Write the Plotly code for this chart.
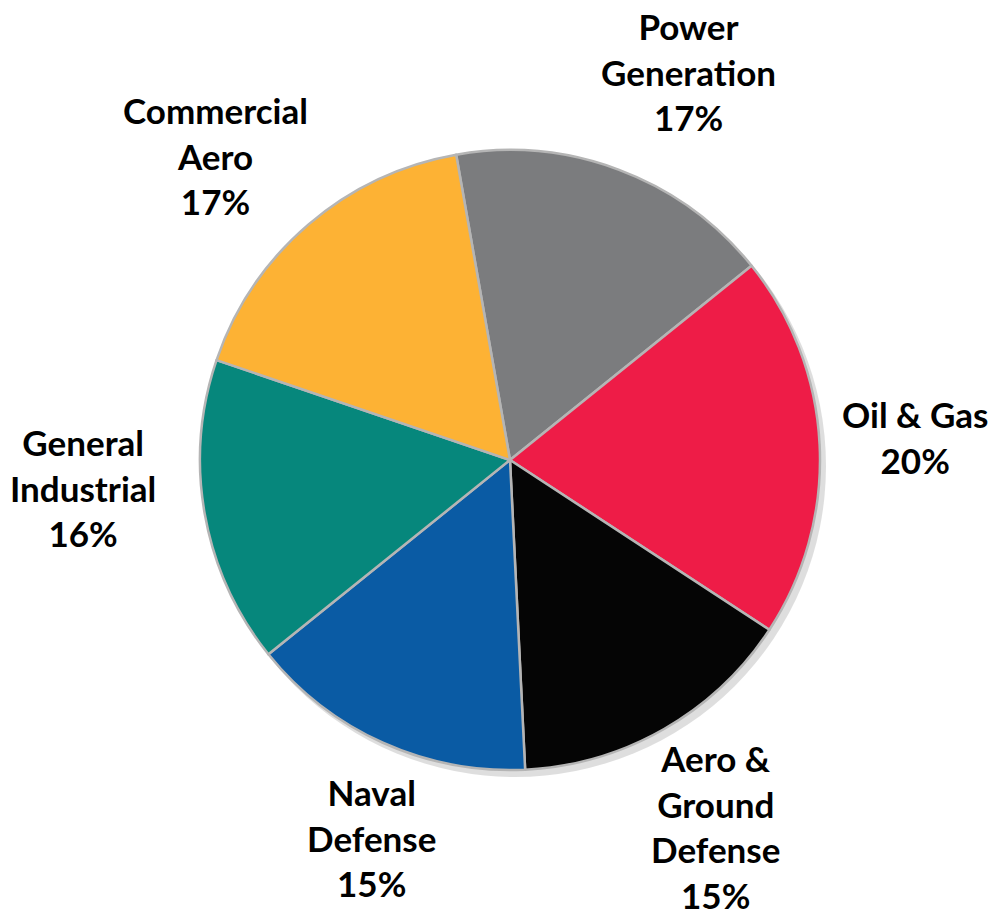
import plotly.graph_objects as go

categories = ["Power<br>Generation", "Oil & Gas", "Aero &<br>Ground<br>Defense",
              "Naval<br>Defense", "General<br>Industrial", "Commercial<br>Aero"]
values = [17, 20, 15, 15, 16, 17]
colors = ["#7b7c7e", "#ee1c47", "#050505", "#0a5ba4", "#06877c", "#fdb234"]

# label anchor positions (pixels) in a 994x913 canvas
label_px = [(688, 72), (915, 437), (715, 826), (371, 837), (83, 488), (215, 155)]

W, H = 994, 913
cx, cy, r = 510, 460, 310

def dom(cx, cy, r):
    return dict(x=[(cx - r) / W, (cx + r) / W], y=[(H - cy - r) / H, (H - cy + r) / H])

fig = go.Figure()
# soft shadow
fig.add_trace(go.Pie(values=[1], marker=dict(colors=["rgba(0,0,0,0.13)"], line=dict(width=0)),
                     domain=dom(cx + 5, cy + 6, r + 1), textinfo="none", hoverinfo="skip",
                     sort=False, showlegend=False))
fig.add_trace(go.Pie(labels=categories, values=values, sort=False, direction="clockwise",
                     rotation=-10, marker=dict(colors=colors, line=dict(color="#b5b5b5", width=2.5)),
                     textinfo="none", domain=dom(cx, cy, r), showlegend=False))

total = sum(values)
for cat, v, (px, py) in zip(categories, values, label_px):
    fig.add_annotation(x=px / W, y=1 - py / H, xref="paper", yref="paper",
                       text=f"<b>{cat}<br>{round(100 * v / total)}%</b>", showarrow=False,
                       font=dict(family="Lato", size=35, color="black"),
                       xanchor="center", yanchor="middle", align="center")

fig.update_layout(width=W, height=H, margin=dict(l=0, r=0, t=0, b=0),
                  paper_bgcolor="white", plot_bgcolor="white")
fig.write_html("out.html", config={"displayModeBar": False},
               post_script="document.body.style.margin='0';")
